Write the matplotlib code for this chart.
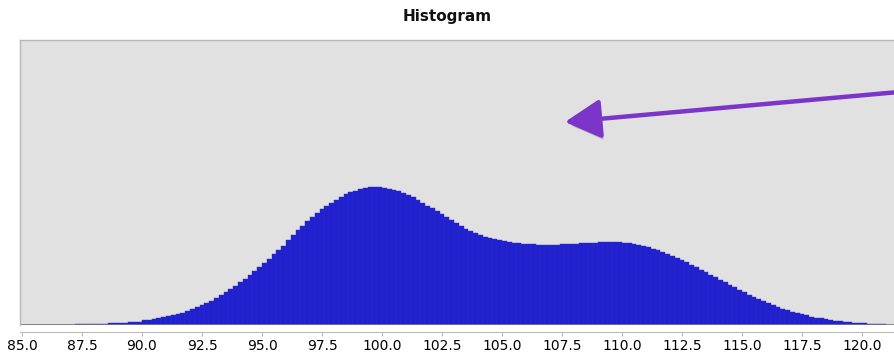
import numpy as np
import matplotlib.pyplot as plt
import matplotlib.patheffects as pe

# bin edges run 85.0 .. 121.0 in steps of 0.2
bin_start = 85.0
bin_width = 0.2

# counts per bin, five bins per unit on the x axis
counts = [
    0.1, 0.1, 0.1, 0.2, 0.2,        # 85
    0.2, 0.3, 0.3, 0.4, 0.4,        # 86
    0.5, 0.6, 0.7, 0.8, 0.9,        # 87
    1.0, 1.2, 1.4, 1.6, 1.8,        # 88
    2.0, 2.3, 2.6, 3.0, 3.4,        # 89
    4.8, 5.4, 6.1, 6.9, 7.8,        # 90
    8.8, 9.9, 11.1, 12.4, 13.8,     # 91
    16, 18, 20, 22, 24.3,           # 92
    27, 30, 33, 36, 39.5,           # 93
    43, 46.5, 50.5, 54.5, 58.5,     # 94
    62.5, 66.5, 71, 75, 79.5,       # 95
    85, 90, 95, 99.5, 104,          # 96
    108, 112, 116, 119.5, 122.5,    # 97
    125.5, 128.5, 131, 133, 134.5,  # 98
    136, 137, 138, 138, 138,        # 99
    137.5, 136.5, 135.5, 134, 132.5, # 100
    130.5, 128, 125.5, 122.5, 119.5, # 101
    117, 114, 111, 108, 105,        # 102
    102, 99, 96.5, 94, 92,          # 103
    90, 88.5, 87, 86, 85,           # 104
    84, 83, 82.5, 82, 81.5,         # 105
    81, 81, 80.5, 80.5, 80.5,       # 106
    80.5, 80.5, 81, 81, 81.5,       # 107
    81.5, 82, 82, 82.5, 82.5,       # 108
    83, 83, 83, 83, 83,             # 109
    82.5, 82, 81.5, 80.5, 79.5,     # 110
    78, 76.5, 75, 73.5, 71.5,       # 111
    69.5, 67.5, 65, 63, 60.5,       # 112
    58, 55.5, 53, 50.5, 48,         # 113
    45.5, 43, 40.5, 38, 35.5,       # 114
    33, 30.5, 28.5, 26, 24,         # 115
    22, 20, 18.5, 16.5, 15,         # 116
    13.5, 12, 10.8, 9.6, 8.5,       # 117
    7.5, 6.6, 5.8, 5.1, 4.4,        # 118
    3.8, 3.3, 2.8, 2.4, 2.1,        # 119
    1.8, 1.5, 1.3, 1.1, 0.9,        # 120
]

tick_values = [85.0, 87.5, 90.0, 92.5, 95.0, 97.5, 100.0, 102.5, 105.0,
               107.5, 110.0, 112.5, 115.0, 117.5, 120.0]

edges = bin_start + bin_width * np.arange(len(counts))

fig = plt.figure(figsize=(8.94, 3.52), dpi=100)
fig.patch.set_facecolor('white')

# plot area runs off the right edge of the figure
ax = fig.add_axes([20 / 894, 27 / 352, 885 / 894, 285 / 352])
ax.set_facecolor('#e1e1e1')

ax.bar(edges, counts, width=bin_width, align='edge', color='#2020cc',
       edgecolor='#2d2dd6', linewidth=0.3)

ax.set_xlim(84.917, 121.79)
ax.set_ylim(0, 285)

ax.set_xticks(tick_values)
ax.set_xticklabels([f'{t:.1f}' for t in tick_values], fontsize=6,
                   color='#888888')
ax.tick_params(axis='x', length=3, width=0.6, color='#aaaaaa', pad=2)
ax.set_yticks([])

for side in ['top', 'left', 'right']:
    ax.spines[side].set_color('#b8b8b8')
    ax.spines[side].set_linewidth(1.0)
ax.spines['bottom'].set_position(('outward', 5))
ax.spines['bottom'].set_color('#bbbbbb')
ax.spines['bottom'].set_linewidth(0.8)
ax.axhline(0, color='#7a7a7a', linewidth=1.2)

fig.text(0.5, 1 - 17 / 352, 'Histogram', ha='center', va='center',
         fontsize=11, fontweight='bold', color='#111111')

# purple pointer arrow with drop shadow
arr = ax.annotate('', xy=(565, 352 - 122), xycoords='figure pixels',
                  xytext=(910, 352 - 91), textcoords='figure pixels',
                  arrowprops=dict(arrowstyle='-|>,head_length=1.1,head_width=0.6',
                                  color='#7b35c8', lw=3.2, mutation_scale=20,
                                  shrinkA=0, shrinkB=0))
arr.arrow_patch.set_path_effects([
    pe.SimplePatchShadow(offset=(1.5, -3), shadow_rgbFace='#888888', alpha=0.6),
    pe.Normal()])

fig.savefig('out.png', dpi=100)
